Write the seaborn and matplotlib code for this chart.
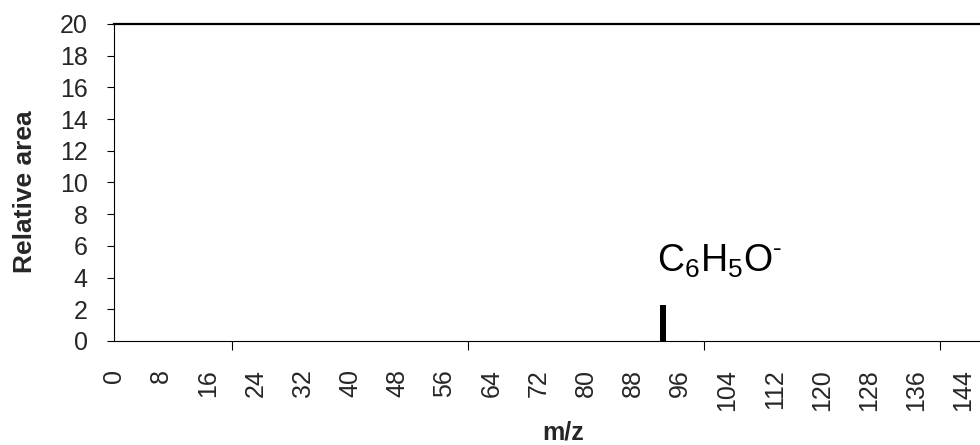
import numpy as np
import pandas as pd
import matplotlib
matplotlib.use("Agg")
import matplotlib.pyplot as plt
import seaborn as sns

# m/z channels and relative peak areas
mz = list(range(0, 147))
area = [0.0] * len(mz)
peak_mz = [93]
peak_area = [2.3]
for m, a in zip(peak_mz, peak_area):
    area[mz.index(m)] = a

label_ticks = list(range(0, 145, 8))
mark_ticks = list(range(0, 141, 20))
y_ticks = list(range(0, 21, 2))
peak_label = "C$_6$H$_5$O$^{\u2010}$"

sns.set_theme(style="white")
plt.rcParams["font.family"] = ["Liberation Sans", "DejaVu Sans"]
plt.rcParams["mathtext.fontset"] = "custom"
plt.rcParams["mathtext.rm"] = "Liberation Sans"
plt.rcParams["mathtext.it"] = "Liberation Sans"
plt.rcParams["mathtext.bf"] = "Liberation Sans:bold"

df = pd.DataFrame({"mz": mz, "area": area})

fig = plt.figure(figsize=(9.8, 4.45), dpi=100)
ax = fig.add_axes([114 / 980, 104 / 445, 866 / 980, 317 / 445])

sns.barplot(data=df, x="mz", y="area", native_scale=True, width=1.0,
            color="black", linewidth=0, ax=ax, errorbar=None)

ax.set_xlim(0, 146.8)
ax.set_ylim(0, 20)

# y axis
ax.set_yticks(y_ticks)
ax.set_yticklabels([str(v) for v in y_ticks], fontsize=18)
ax.tick_params(axis="y", direction="out", length=5, width=0.8, color="black",
               pad=14, left=True)

# x axis: labels every 8, tick marks every 20
ax.set_xticks(label_ticks)
ax.set_xticklabels([str(v) for v in label_ticks], rotation=90, fontsize=18)
ax.tick_params(axis="x", which="major", length=0, pad=20)
ax.set_xticks(mark_ticks, minor=True)
ax.tick_params(axis="x", which="minor", direction="out", length=6.5, width=0.8,
               color="black", bottom=True)

for side in ["left", "bottom"]:
    ax.spines[side].set_linewidth(0.8)
    ax.spines[side].set_color("black")
ax.spines["top"].set_linewidth(1.6)
ax.spines["top"].set_color("black")
ax.spines["right"].set_visible(False)

ax.set_ylabel("Relative area", fontsize=19, fontweight="bold")
ax.yaxis.set_label_coords(-0.089, 0.47)
ax.set_xlabel("m/z", fontsize=18, fontweight="bold")
ax.xaxis.set_label_coords((563 - 114) / 866, -0.25)

ax.text(102.7, 4.35, peak_label, fontsize=27, ha="center", va="baseline",
        color="black")

fig.savefig("out.png", dpi=100)
